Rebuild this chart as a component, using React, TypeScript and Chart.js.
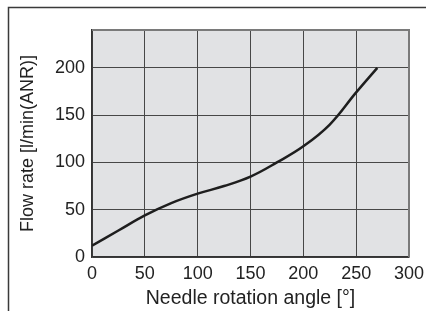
import React, { useEffect, useRef } from "react";
import { Chart, registerables } from "chart.js";

Chart.register(...registerables);

const angles = [0, 25, 50, 75, 100, 125, 150, 175, 200, 225, 250, 270];
const flowRates = [12, 28, 44, 57, 67, 75, 85, 100, 117, 140, 174, 200];
const xTitle = "Needle rotation angle [°]";
const yTitle = "Flow rate [l/min(ANR)]";

const FONT = "'Liberation Sans', Arial, sans-serif";

const decor = {
  id: "decor",
  beforeDraw(chart: any) {
    const { ctx, chartArea: a } = chart;
    ctx.save();
    ctx.fillStyle = "#e1e2e4";
    ctx.fillRect(a.left, a.top, a.right - a.left, a.bottom - a.top);
    ctx.strokeStyle = "#3a3a3a";
    ctx.lineWidth = 1.5;
    ctx.beginPath();
    ctx.moveTo(8.5, 311);
    ctx.lineTo(8.5, 7.5);
    ctx.lineTo(426, 7.5);
    ctx.stroke();
    ctx.restore();
  },
  beforeDatasetsDraw(chart: any) {
    const { ctx, chartArea: a } = chart;
    ctx.save();
    ctx.strokeStyle = "#7a7a7a";
    ctx.lineWidth = 2;
    ctx.beginPath();
    ctx.moveTo(a.left, a.top);
    ctx.lineTo(a.right, a.top);
    ctx.lineTo(a.right, a.bottom);
    ctx.stroke();
    ctx.restore();
  },
};

export default function App() {
  const ref = useRef<HTMLCanvasElement>(null);
  useEffect(() => {
    if (!ref.current) return;
    const chart = new Chart(ref.current, {
      type: "line",
      data: {
        datasets: [
          {
            data: angles.map((a, i) => ({ x: a, y: flowRates[i] })),
            borderColor: "#1e1e1e",
            borderWidth: 2.5,
            pointRadius: 0,
            tension: 0.4,
            fill: false,
          },
        ],
      },
      options: {
        animation: false,
        responsive: false,
        layout: { padding: { top: 30, right: 17, left: 0, bottom: 0 } },
        plugins: { legend: { display: false }, tooltip: { enabled: false } },
        scales: {
          x: {
            type: "linear",
            min: 0,
            max: 300,
            afterFit: (s: any) => {
              s.height = 54;
              s.paddingRight = 0;
            },
            ticks: {
              stepSize: 50,
              padding: 6,
              color: "#222",
              font: { family: FONT, size: 18 },
              maxRotation: 0,
            },
            grid: { color: "#474747", lineWidth: 1, drawTicks: false },
            border: { color: "#333", width: 1.5 },
            title: {
              display: true,
              text: xTitle,
              color: "#222",
              font: { family: FONT, size: 19.5 },
              padding: { top: 0, bottom: 1 },
            },
          },
          y: {
            type: "linear",
            min: 0,
            max: 240,
            afterFit: (s: any) => {
              s.width = 92;
            },
            ticks: {
              stepSize: 50,
              includeBounds: false,
              padding: 7,
              color: "#222",
              font: { family: FONT, size: 18 },
            },
            grid: { color: "#474747", lineWidth: 1, drawTicks: false },
            border: { color: "#333", width: 1.5 },
            title: {
              display: true,
              text: yTitle,
              color: "#222",
              font: { family: FONT, size: 18 },
              padding: { top: 17, bottom: 0 },
            },
          },
        },
      },
      plugins: [decor],
    } as any);
    return () => chart.destroy();
  }, []);
  return (
    <div style={{ position: "fixed", left: 0, top: 0, width: 426, height: 311 }}>
      <canvas ref={ref} width={426} height={311} style={{ display: "block", width: 426, height: 311 }} />
    </div>
  );
}
